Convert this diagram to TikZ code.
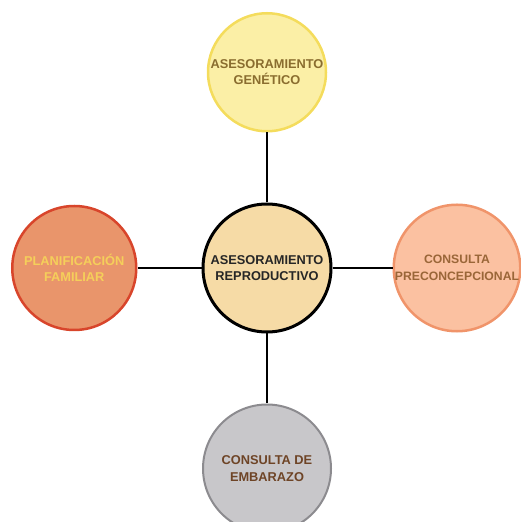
\documentclass[tikz,border=0pt]{standalone}
\usepackage{fontspec}
\setmainfont{Liberation Sans}
\usepackage{xcolor}
\usetikzlibrary{positioning,backgrounds}
\definecolor{hubFill}{HTML}{F6DBA6}
\definecolor{hubText}{HTML}{262626}
\definecolor{genFill}{HTML}{FBEFA6}
\definecolor{genLine}{HTML}{F4DC5C}
\definecolor{genText}{HTML}{8A6D2F}
\definecolor{famFill}{HTML}{E9956B}
\definecolor{famLine}{HTML}{D8452B}
\definecolor{famText}{HTML}{F5CF5A}
\definecolor{preFill}{HTML}{FBC1A1}
\definecolor{preLine}{HTML}{F0946A}
\definecolor{preText}{HTML}{9A6638}
\definecolor{embFill}{HTML}{C8C7CA}
\definecolor{embLine}{HTML}{8C8B8F}
\definecolor{embText}{HTML}{6E4426}

\begin{document}
\begin{tikzpicture}[
    x=1pt, y=1pt,
    font=\fontsize{12.8pt}{16.5pt}\selectfont\bfseries,
    bubble/.style={
        circle,
        line width=2.5pt,
        minimum size=124pt,
        inner sep=0pt,
        align=center
    },
    hubbox/.style={
        bubble,
        draw=black,
        line width=3pt,
        fill=hubFill,
        text=hubText,
        minimum size=128pt
    },
    link/.style={
        line width=2pt,
        draw=black
    }
]
\useasboundingbox (0,0) rectangle (520,522);

% -------------------- Centre -------------------------------
\node[hubbox] (hub) at (267,254) {ASESORAMIENTO\\REPRODUCTIVO};

% -------------------- Satellites ---------------------------
\node[bubble, draw=genLine, fill=genFill, text=genText,
      minimum size=118pt, above=70pt of hub] (genetico)
  {ASESORAMIENTO\\GENÉTICO};

\node[bubble, draw=famLine, fill=famFill, text=famText,
      left=64pt of hub] (familiar)
  {PLANIFICACIÓN\\FAMILIAR};

\node[bubble, draw=preLine, fill=preFill, text=preText,
      font=\fontsize{12.2pt}{16.5pt}\selectfont\bfseries,
      right=60pt of hub] (preconcep)
  {CONSULTA\\PRECONCEPCIONAL};

\node[bubble, draw=embLine, fill=embFill, text=embText,
      line width=2pt, minimum size=128pt, below=70pt of hub] (embarazo)
  {CONSULTA DE\\EMBARAZO};

% -------------------- Links --------------------------------
\draw[link] (hub.north) -- (genetico.south);
\draw[link] (hub.west) -- (familiar.east);
\draw[link] (hub.east) -- (preconcep.west);
\draw[link] (hub.south) -- (embarazo.north);

\end{tikzpicture}
\end{document}
